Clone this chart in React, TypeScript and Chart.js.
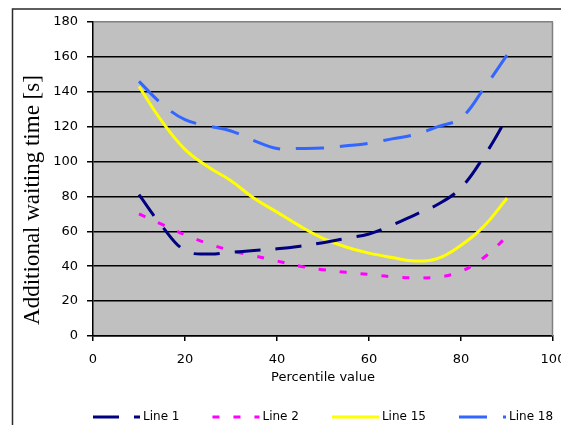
import React, { useEffect, useRef } from "react";
import { Chart, registerables } from "chart.js";

Chart.register(...registerables);

const percentiles = [10, 15, 20, 25, 30, 35, 40, 45, 50, 55, 60, 65, 70, 75, 80, 85, 90];
const line1 = [81, 63, 49, 47, 48, 49, 50, 51.5, 53.5, 56, 58.5, 63.5, 69.5, 75.5, 85, 103, 125];
const line2 = [70, 64, 58, 53, 49, 46, 43, 40, 38, 36.5, 35.3, 34, 33.4, 33.8, 37, 45, 57];
const line15 = [143, 123, 107, 97, 89, 79, 71, 63, 56, 51, 47.5, 45, 43, 44.5, 52, 63, 79];
const line18 = [146, 133, 124, 120.5, 117.5, 112, 107.5, 107.5, 107.8, 109, 110.5, 113, 115.5, 120, 125, 142, 161];
const seriesNames = ["Line 1", "Line 2", "Line 15", "Line 18"];
const xTicks = [0, 20, 40, 60, 80, 100];
const yTicks = [0, 20, 40, 60, 80, 100, 120, 140, 160, 180];
const xTitle = "Percentile value";
const yTitle = "Additional waiting time [s]";

export default function App() {
  const ref = useRef<HTMLCanvasElement>(null);

  useEffect(() => {
    if (!ref.current) return;
    const pts = (arr: number[]) => percentiles.map((x, i) => ({ x, y: arr[i] }));

    const frame = {
      id: "frame",
      beforeDraw(chart: any) {
        const { ctx, chartArea } = chart;
        ctx.save();
        ctx.fillStyle = "#ffffff";
        ctx.fillRect(0, 0, chart.width, chart.height);
        ctx.strokeStyle = "#2a2a2a";
        ctx.lineWidth = 1.5;
        ctx.strokeRect(12.5, 9, chart.width + 20, chart.height + 20);
        ctx.fillStyle = "#c0c0c0";
        ctx.fillRect(chartArea.left, chartArea.top, chartArea.right - chartArea.left, chartArea.bottom - chartArea.top);
        ctx.restore();
      },
      beforeDatasetsDraw(chart: any) {
        const { ctx, chartArea } = chart;
        ctx.save();
        ctx.strokeStyle = "#808080";
        ctx.lineWidth = 1.5;
        ctx.beginPath();
        ctx.moveTo(chartArea.right - 0.5, chartArea.top);
        ctx.lineTo(chartArea.right - 0.5, chartArea.bottom);
        ctx.stroke();
        ctx.restore();
      },
      afterDraw(chart: any) {
        const { ctx, chartArea } = chart;
        // y axis title
        ctx.save();
        ctx.translate(39, 200);
        ctx.rotate(-Math.PI / 2);
        ctx.font = '23px "Liberation Serif"';
        ctx.fillStyle = "#000";
        ctx.textAlign = "center";
        ctx.textBaseline = "alphabetic";
        ctx.fillText(yTitle, 0, 0);
        ctx.restore();
        // legend
        let x = chartArea.left;
        const y = 417;
        ctx.save();
        ctx.font = '12px "DejaVu Sans"';
        chart.data.datasets.forEach((ds: any) => {
          ctx.save();
          ctx.strokeStyle = ds.borderColor;
          ctx.lineWidth = ds.borderWidth;
          ctx.setLineDash(ds.borderDash || []);
          ctx.beginPath();
          ctx.moveTo(x, y);
          ctx.lineTo(x + 47, y);
          ctx.stroke();
          ctx.restore();
          ctx.fillStyle = "#000";
          ctx.textAlign = "left";
          ctx.textBaseline = "middle";
          ctx.fillText(ds.label, x + 50, y);
          x += 50 + ctx.measureText(ds.label).width + 33;
        });
        ctx.restore();
      },
    };

    const tickFont = { family: '"DejaVu Sans"', size: 13 };

    const chart = new Chart(ref.current, {
      type: "line",
      data: {
        datasets: [
          { label: seriesNames[0], data: pts(line1), borderColor: "#000080", borderWidth: 3, borderDash: [26, 15] },
          { label: seriesNames[1], data: pts(line2), borderColor: "#ff00ff", borderWidth: 3, borderDash: [7, 14] },
          { label: seriesNames[2], data: pts(line15), borderColor: "#ffff00", borderWidth: 3 },
          { label: seriesNames[3], data: pts(line18), borderColor: "#3366ff", borderWidth: 3, borderDash: [28, 16] },
        ],
      },
      options: {
        animation: false,
        responsive: false,
        maintainAspectRatio: false,
        layout: { padding: { left: 0, top: 22, right: 8, bottom: 40 } },
        elements: { point: { radius: 0 }, line: { tension: 0.4, fill: false } },
        plugins: { legend: { display: false }, tooltip: { enabled: false } },
        scales: {
          x: {
            type: "linear",
            min: 0,
            max: 100,
            afterBuildTicks: (s: any) => { s.ticks = xTicks.map((v) => ({ value: v })); },
            grid: { drawOnChartArea: false, drawTicks: true, tickLength: 5, color: "#000", lineWidth: 1.5 },
            border: { color: "#000", width: 1.5 },
            ticks: { color: "#000", font: tickFont, padding: 11, maxRotation: 0, autoSkip: false },
            title: { display: true, text: xTitle, color: "#000", font: tickFont, padding: { top: 0, bottom: 0 } },
            afterFit: (s: any) => { s.height = 49; s.paddingLeft = 0; s.paddingRight = 0; },
          },
          y: {
            type: "linear",
            min: 0,
            max: 180,
            afterBuildTicks: (s: any) => { s.ticks = yTicks.map((v) => ({ value: v })); },
            grid: {
              color: (c: any) => (c.tick && c.tick.value === 180 ? "#808080" : "#000"),
              tickColor: "#000",
              tickLength: 6,
              lineWidth: 1.5,
            },
            border: { color: "#000", width: 1.5 },
            ticks: { color: "#000", font: tickFont, padding: 9 },
            afterFit: (s: any) => { s.width = 93; s.paddingTop = 0; s.paddingBottom = 0; },
          },
        },
      },
      plugins: [frame],
    } as any);

    return () => chart.destroy();
  }, []);

  return (
    <div style={{ position: "absolute", left: 0, top: 0, width: 561, height: 425, background: "#fff" }}>
      <canvas ref={ref} width={561} height={425} style={{ display: "block" }} />
    </div>
  );
}
